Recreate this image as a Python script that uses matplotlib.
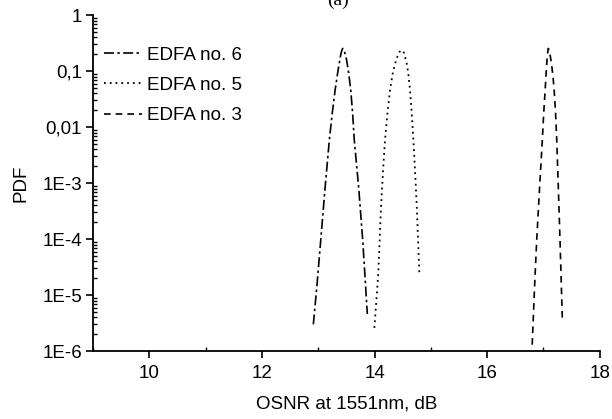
import matplotlib
matplotlib.use("Agg")
import matplotlib.pyplot as plt
from matplotlib.ticker import FixedLocator, NullFormatter, LogLocator

plt.rcParams['font.family'] = ['Liberation Sans', 'DejaVu Sans']

# EDFA no. 6 (dash-dot)
osnr_6 = [12.913, 12.98, 13.044, 13.12, 13.197, 13.25, 13.30, 13.35, 13.39, 13.415, 13.435,
          13.46, 13.50, 13.54, 13.577, 13.61, 13.64, 13.72, 13.79, 13.872]
pdf_6 = [3.0e-6, 1.6e-5, 9.5e-5, 7.9e-4, 5.9e-3, 1.8e-2, 4.6e-2, 0.10, 0.174, 0.229, 0.254,
         0.234, 0.166, 0.093, 4.6e-2, 1.8e-2, 5.9e-3, 7.9e-4, 9.5e-5, 4.6e-6]

# EDFA no. 5 (dotted)
osnr_5 = [13.997, 14.067, 14.115, 14.15, 14.186, 14.23, 14.275, 14.33, 14.39, 14.44, 14.483,
          14.52, 14.57, 14.60, 14.63, 14.66, 14.69, 14.72, 14.75, 14.796]
pdf_5 = [2.6e-6, 2.45e-5, 3.8e-4, 1.6e-3, 5.9e-3, 1.8e-2, 4.6e-2, 0.10, 0.166, 0.219, 0.237,
         0.214, 0.141, 0.089, 4.6e-2, 1.8e-2, 5.9e-3, 1.6e-3, 3.8e-4, 2.4e-5]

# EDFA no. 3 (dashed)
osnr_3 = [16.80, 16.84, 16.88, 16.93, 16.98, 17.005, 17.03, 17.05, 17.068, 17.087,
          17.11, 17.14, 17.165, 17.19, 17.215, 17.236, 17.265, 17.294, 17.336]
pdf_3 = [1.3e-6, 1.26e-5, 9.5e-5, 7.9e-4, 5.9e-3, 1.8e-2, 4.6e-2, 0.10, 0.19, 0.254,
         0.219, 0.141, 0.089, 4.6e-2, 1.8e-2, 5.9e-3, 7.9e-4, 9.5e-5, 3.5e-6]

x_ticks = [10, 12, 14, 16, 18]
y_ticks = [1, 0.1, 0.01, 1e-3, 1e-4, 1e-5, 1e-6]
y_tick_labels = ['1', '0,1', '0,01', '1E-3', '1E-4', '1E-5', '1E-6']

FS = 13.5

fig = plt.figure(figsize=(6.12, 4.19), dpi=100)
ax = fig.add_axes([0.152, 0.162, 0.828, 0.802])

ax.plot(osnr_6, pdf_6, color='black', lw=1.2, linestyle=(0, (6, 2, 1.5, 2)), label='EDFA no. 6')
ax.plot(osnr_5, pdf_5, color='black', lw=1.3, linestyle=(0, (1, 2.2)), label='EDFA no. 5')
ax.plot(osnr_3, pdf_3, color='black', lw=1.2, linestyle=(0, (4, 3)), label='EDFA no. 3')

ax.set_yscale('log')
ax.set_xlim(9, 18)
ax.set_ylim(1e-6, 1)
ax.set_xticks(x_ticks)
ax.set_xticklabels([str(v) for v in x_ticks])
ax.xaxis.set_minor_locator(FixedLocator([9, 11, 13, 15, 17]))
ax.set_yticks(y_ticks)
ax.set_yticklabels(y_tick_labels)
ax.yaxis.set_minor_locator(LogLocator(base=10, subs=range(2, 10), numticks=20))
ax.yaxis.set_minor_formatter(NullFormatter())

for s in ['top', 'right']:
    ax.spines[s].set_visible(False)
for s in ['left', 'bottom']:
    ax.spines[s].set_linewidth(1.3)

ax.tick_params(axis='x', which='major', direction='out', length=5, width=1.2,
               labelsize=FS, colors='black', pad=5)
ax.tick_params(axis='y', which='major', direction='out', length=5, width=1.2,
               labelsize=FS, colors='black', pad=3)
ax.tick_params(axis='both', which='minor', direction='in', length=3, width=1.0)

ax.set_xlabel('OSNR at 1551nm, dB', fontsize=FS, labelpad=10)
ax.set_ylabel('PDF', fontsize=FS, labelpad=9)

ax.legend(loc='upper left', bbox_to_anchor=(0.0, 0.94), frameon=False,
          fontsize=FS, handlelength=2.0, handletextpad=0.3, labelspacing=0.7,
          borderaxespad=0.2)

fig.text(0.553, 0.998, '(a)', ha='center', va='center', fontsize=14, family='Liberation Serif')

fig.savefig('out.png', dpi=100)
